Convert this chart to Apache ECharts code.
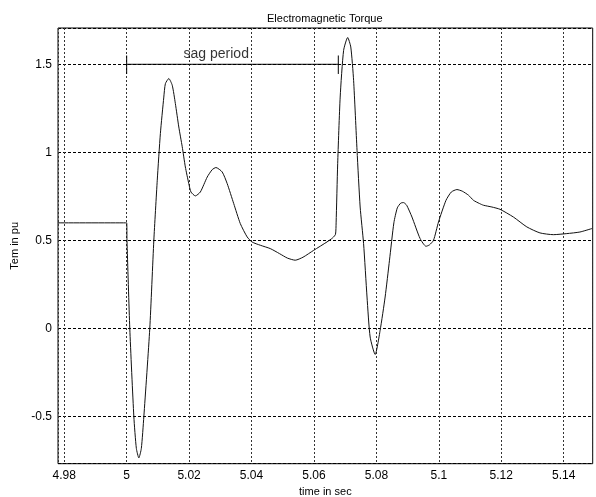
<!DOCTYPE html>
<html>
<head>
<meta charset="utf-8">
<script src="https://cdn.jsdelivr.net/npm/echarts@6/dist/echarts.min.js"></script>
<style>
html,body{margin:0;padding:0;background:#fff;}
#c{width:596px;height:497px;}
</style>
</head>
<body>
<div id="c"></div>
<script>
const timeValues = [4.978,5.0,5.0001,5.0010,5.0023,5.0031,5.0039,5.0047,5.0055,5.0074,5.0087,5.0098,5.0108,5.0119,5.0124,5.0135,5.0146,5.0156,5.0167,5.0178,5.0188,5.0199,5.0206,5.0220,5.0236,5.0258,5.0274,5.0286,5.0306,5.0322,5.0343,5.0364,5.0386,5.0402,5.0428,5.0460,5.0490,5.0515,5.0540,5.0565,5.0599,5.0642,5.0660,5.0669,5.0671,5.0676,5.0684,5.0695,5.0708,5.0718,5.0727,5.0738,5.0748,5.0759,5.0770,5.0780,5.0796,5.0812,5.0828,5.0842,5.0856,5.0867,5.0878,5.0887,5.0897,5.0914,5.0940,5.0959,5.0970,5.0983,5.0999,5.1023,5.1040,5.1058,5.1075,5.1095,5.1111,5.1130,5.1143,5.1170,5.1196,5.1239,5.1282,5.1324,5.1367,5.1410,5.1452,5.1491];
const torqueValues = [0.6,0.6,0.5,0.0,-0.5,-0.68,-0.734,-0.68,-0.5,0.0,0.5,0.842,1.107,1.314,1.39,1.419,1.381,1.277,1.144,1.032,0.917,0.823,0.775,0.753,0.775,0.860,0.902,0.914,0.889,0.823,0.709,0.596,0.520,0.491,0.473,0.454,0.425,0.400,0.388,0.405,0.444,0.492,0.515,0.535,0.60,0.936,1.314,1.579,1.652,1.598,1.409,1.012,0.690,0.482,0.179,-0.048,-0.147,-0.01,0.179,0.388,0.60,0.685,0.712,0.715,0.70,0.633,0.511,0.467,0.475,0.501,0.605,0.728,0.775,0.789,0.780,0.757,0.728,0.710,0.700,0.690,0.677,0.633,0.577,0.543,0.533,0.539,0.548,0.568];
const xRange = [4.978, 5.1493];
const yRange = [-0.767, 1.706];
const xTickStep = 0.02;
const yTickStep = 0.5;
const sagStart = 5.0;
const sagEnd = 5.0678;
const sagLevel = 1.5;
const sagTickLow = 1.445;
const sagTickHigh = 1.55;
const sagLabel = 'sag period';
const sagLabelPos = [5.0287, 1.557];
const titleText = 'Electromagnetic Torque';
const xName = 'time in sec';
const yName = 'Tem in pu';

const font = 'Liberation Sans, Arial, sans-serif';
const curve = timeValues.map((t, i) => [t, torqueValues[i]]);
const fmt = v => String(+(+v).toFixed(3));

const chart = echarts.init(document.getElementById('c'), null, {renderer: 'canvas'});
chart.setOption({
  animation: false,
  backgroundColor: '#fff',
  title: {
    text: titleText, left: 262, top: 8,
    textStyle: {fontSize: 11, fontWeight: 'normal', color: '#000', fontFamily: font}
  },
  grid: {
    left: 58, top: 28, right: 3.3, bottom: 33.3,
    show: true, borderColor: '#000', borderWidth: 1, backgroundColor: '#fff',
    containLabel: false, outerBoundsMode: 'none'
  },
  xAxis: {
    type: 'value', min: xRange[0], max: xRange[1],
    minInterval: xTickStep, maxInterval: xTickStep, splitNumber: 9,
    name: xName, nameLocation: 'middle', nameGap: 21,
    nameTextStyle: {fontSize: 11, color: '#000', fontFamily: font},
    axisLine: {show: false},
    axisTick: {show: false},
    axisLabel: {fontSize: 12, color: '#000', fontFamily: font, margin: 6, showMinLabel: false, showMaxLabel: false, formatter: fmt},
    splitLine: {show: true, lineStyle: {color: '#333', width: 1, type: [2, 2]}}
  },
  yAxis: {
    type: 'value', min: yRange[0], max: yRange[1],
    minInterval: yTickStep, maxInterval: yTickStep, splitNumber: 5,
    name: yName, nameLocation: 'middle', nameGap: 33,
    nameTextStyle: {fontSize: 11, color: '#000', fontFamily: font},
    axisLine: {show: false},
    axisTick: {show: false},
    axisLabel: {fontSize: 12, color: '#000', fontFamily: font, margin: 6, showMinLabel: false, showMaxLabel: false, formatter: fmt},
    splitLine: {show: true, lineStyle: {color: '#000', width: 1, type: [3, 2]}}
  },
  series: [
    {
      type: 'line', data: curve, showSymbol: false, symbol: 'none',
      smooth: 0.2,
      lineStyle: {color: '#111', width: 1}
    },
    {
      type: 'line', data: [[sagStart, sagLevel], [sagEnd, sagLevel]], symbol: 'none',
      lineStyle: {color: '#000', width: 1}
    },
    {
      type: 'line', data: [[sagStart, sagTickLow], [sagStart, sagTickHigh]], symbol: 'none',
      lineStyle: {color: '#000', width: 1}
    },
    {
      type: 'line', data: [[sagEnd, sagTickLow], [sagEnd, sagTickHigh]], symbol: 'none',
      lineStyle: {color: '#000', width: 1}
    },
    {
      type: 'scatter', data: [sagLabelPos], symbolSize: 0,
      label: {show: true, position: 'inside', formatter: sagLabel, fontSize: 14, color: '#000', fontFamily: font}
    }
  ]
});
</script>
</body>
</html>
